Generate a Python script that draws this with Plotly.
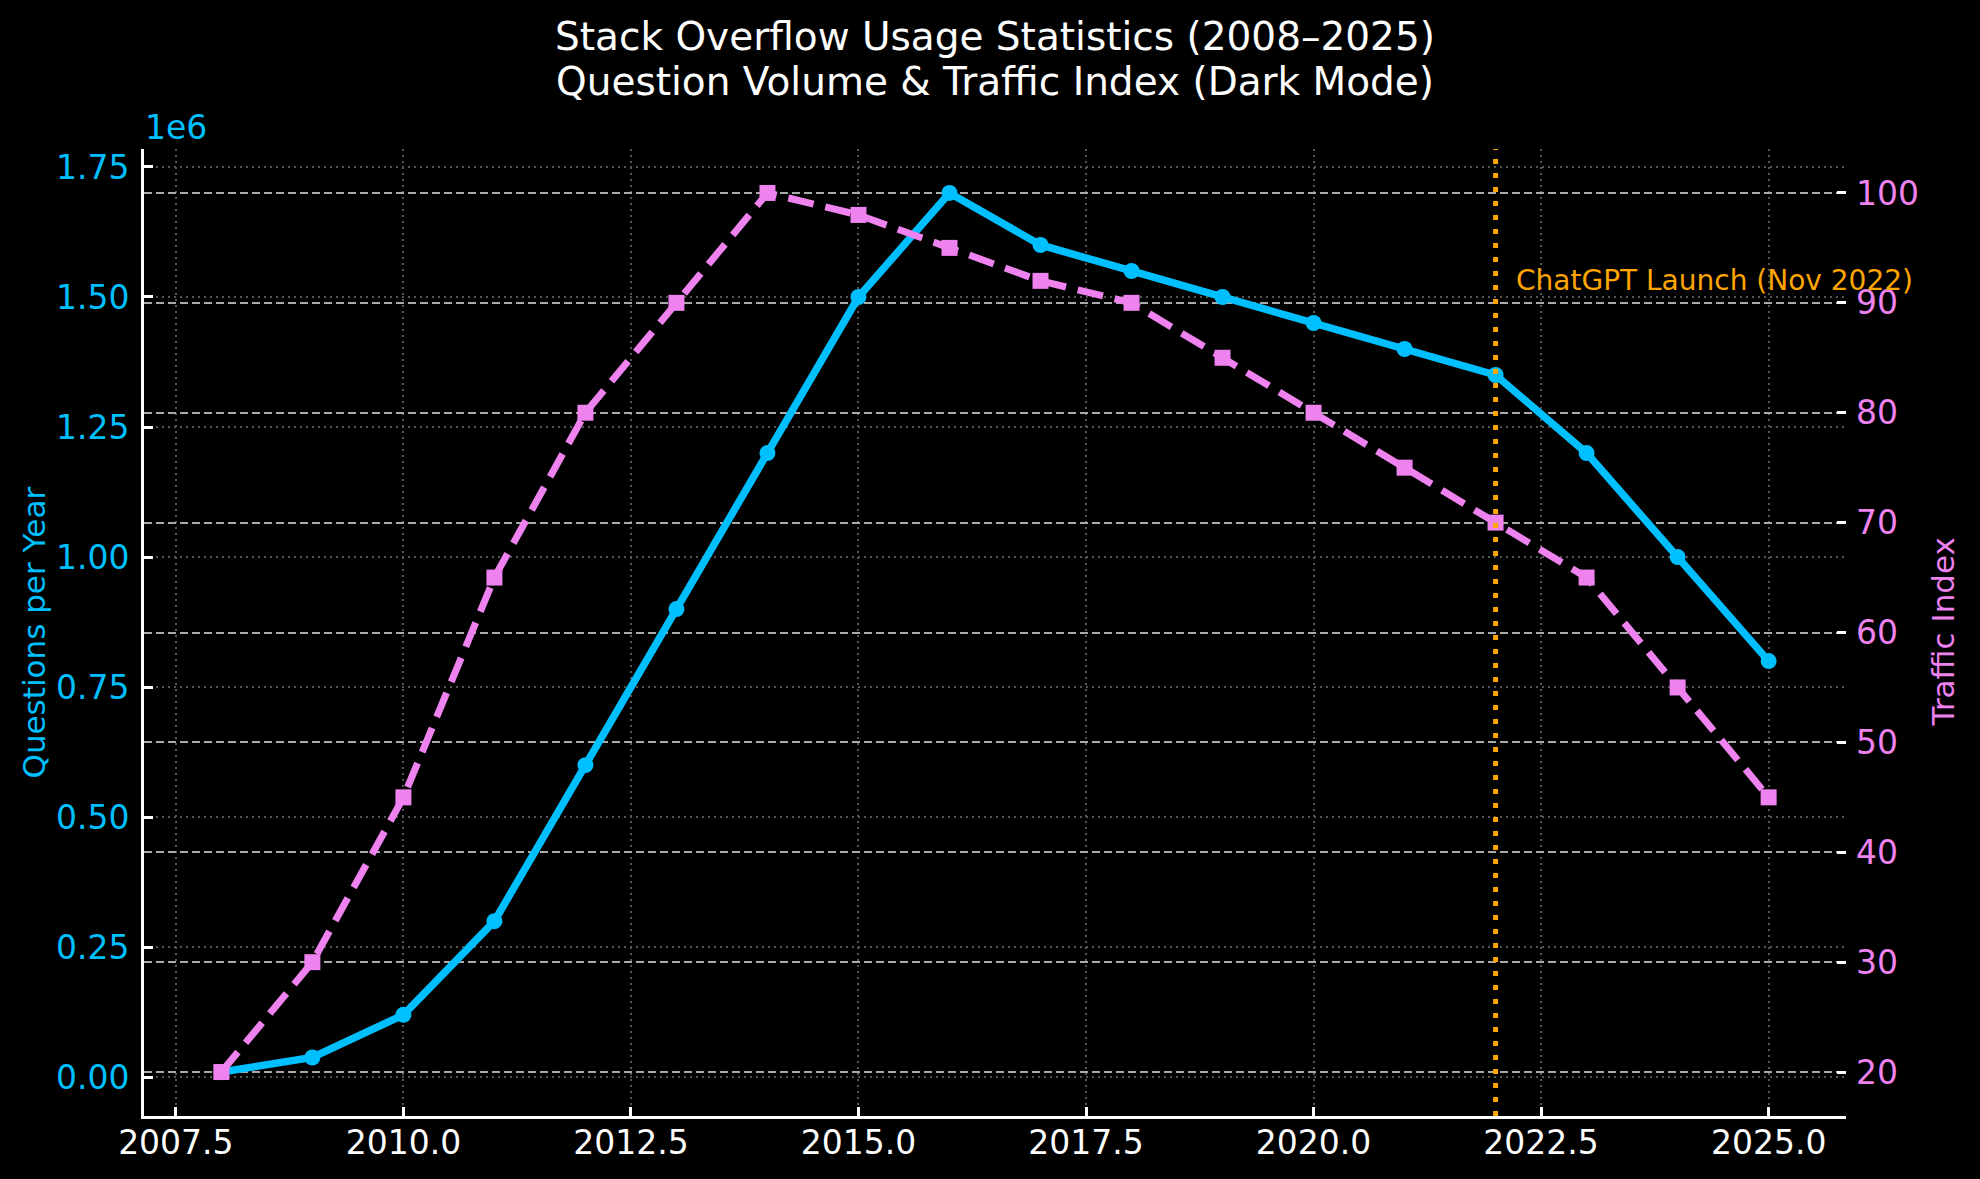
import plotly.graph_objects as go

# ---- data ----
years = [2008, 2009, 2010, 2011, 2012, 2013, 2014, 2015, 2016,
         2017, 2018, 2019, 2020, 2021, 2022, 2023, 2024, 2025]
questions = [10000, 38000, 120000, 300000, 600000, 900000, 1200000, 1500000, 1700000,
             1600000, 1550000, 1500000, 1450000, 1400000, 1350000, 1200000, 1000000, 800000]
traffic = [20, 30, 45, 65, 80, 90, 100, 98, 95,
           92, 90, 85, 80, 75, 70, 65, 55, 45]

q_tickvals = [0, 250000, 500000, 750000, 1000000, 1250000, 1500000, 1750000]
q_ticktext = ["0.00", "0.25", "0.50", "0.75", "1.00", "1.25", "1.50", "1.75"]
t_tickvals = [20, 30, 40, 50, 60, 70, 80, 90, 100]
x_tickvals = [2007.5, 2010.0, 2012.5, 2015.0, 2017.5, 2020.0, 2022.5, 2025.0]

chatgpt_year = 2022
chatgpt_label = "ChatGPT Launch (Nov 2022)"

title_line1 = "Stack Overflow Usage Statistics (2008–2025)"
title_line2 = "Question Volume & Traffic Index (Dark Mode)"

# ---- style ----
FONT = "DejaVu Sans"
CYAN = "#00BFFF"
VIOLET = "#EE82EE"
ORANGE = "#FFA500"
TICK_SIZE = 33
LABEL_SIZE = 31
TITLE_SIZE = 39
W, H = 1980, 1179
M_L, M_R, M_T, M_B = 144, 134, 149, 63
PLOT_H = H - M_T - M_B

fig = go.Figure()

fig.add_trace(go.Scatter(
    x=years, y=questions, mode="lines+markers", name="Questions per Year",
    line=dict(color=CYAN, width=7.5),
    marker=dict(symbol="circle", size=16, color=CYAN),
    yaxis="y", cliponaxis=False,
))
fig.add_trace(go.Scatter(
    x=years, y=traffic, mode="lines+markers", name="Traffic Index",
    line=dict(color=VIOLET, width=7, dash="26px,12px"),
    marker=dict(symbol="square", size=16, color=VIOLET),
    yaxis="y2", cliponaxis=False,
))

fig.add_shape(
    type="line", xref="x", yref="y domain",
    x0=chatgpt_year, x1=chatgpt_year, y0=0, y1=1,
    line=dict(color=ORANGE, width=5, dash="5px,9px"),
    layer="above",
)

fig.add_annotation(
    x=chatgpt_year + 0.2, y=92, xref="x", yref="y2",
    text=chatgpt_label, showarrow=False,
    xanchor="left", yanchor="middle",
    font=dict(family=FONT, size=28, color=ORANGE),
)

# second title line
fig.add_annotation(
    x=0.5, y=1 + (M_T - 82) / PLOT_H, xref="paper", yref="paper",
    text=title_line2, showarrow=False, xanchor="center", yanchor="middle",
    font=dict(family=FONT, size=TITLE_SIZE, color="white"),
)

# offset text "1e6"
fig.add_annotation(
    x=0, y=1 + (M_T - 128) / PLOT_H, xref="paper", yref="paper",
    text="1e6", showarrow=False, xanchor="left", yanchor="middle",
    xshift=-1,
    font=dict(family=FONT, size=TICK_SIZE, color=CYAN),
)
# axis titles
fig.add_annotation(
    x=0, y=0.5, xref="paper", yref="paper",
    text="Questions per Year", showarrow=False, textangle=-90,
    xanchor="center", yanchor="middle", xshift=-111,
    font=dict(family=FONT, size=LABEL_SIZE, color=CYAN),
)
fig.add_annotation(
    x=1, y=0.5, xref="paper", yref="paper",
    text="Traffic Index", showarrow=False, textangle=-90,
    xanchor="center", yanchor="middle", xshift=96,
    font=dict(family=FONT, size=LABEL_SIZE, color=VIOLET),
)

fig.update_layout(
    width=W, height=H,
    paper_bgcolor="black", plot_bgcolor="black",
    showlegend=False,
    margin=dict(l=M_L, r=M_R, t=M_T, b=M_B),
    font=dict(family=FONT, color="white"),
    title=dict(
        text=title_line1, x=0.5, xref="paper", xanchor="center",
        y=1 - 36 / H, yref="container", yanchor="middle",
        font=dict(family=FONT, size=TITLE_SIZE, color="white"),
    ),
    xaxis=dict(
        range=[2007.15, 2025.85], tickvals=x_tickvals, tickformat=".1f",
        showline=True, linecolor="white", linewidth=3,
        ticks="inside", ticklen=9, tickwidth=3, tickcolor="white",
        tickfont=dict(family=FONT, size=TICK_SIZE, color="white"),
        ticklabelstandoff=-5,
        showgrid=True, gridcolor="#555555", gridwidth=1.5, griddash="2px,4px",
        zeroline=False,
    ),
    yaxis=dict(
        range=[-74500, 1784500], tickvals=q_tickvals, ticktext=q_ticktext,
        showline=True, linecolor="white", linewidth=3,
        ticks="inside", ticklen=9, tickwidth=3, tickcolor="white",
        tickfont=dict(family=FONT, size=TICK_SIZE, color=CYAN),
        ticklabelstandoff=5,
        showgrid=True, gridcolor="#555555", gridwidth=1.5, griddash="2px,4px",
        zeroline=False,
    ),
    yaxis2=dict(
        overlaying="y", side="right",
        range=[16, 104], tickvals=t_tickvals,
        showline=False,
        ticks="inside", ticklen=9, tickwidth=3, tickcolor="white",
        tickfont=dict(family=FONT, size=TICK_SIZE, color=VIOLET),
        ticklabelstandoff=9,
        showgrid=True, gridcolor="#AAAAAA", gridwidth=1.5, griddash="8px,4px",
        zeroline=False,
    ),
)

fig.write_html(
    "out.html",
    config={"displayModeBar": False},
    post_script="document.body.style.margin='0';document.body.style.background='black';",
)
